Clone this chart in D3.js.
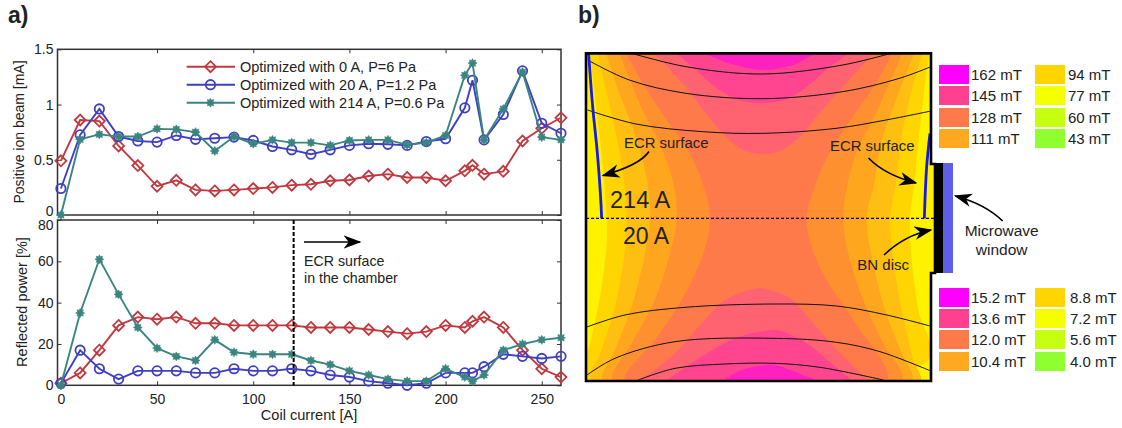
<!DOCTYPE html>
<html>
<head>
<meta charset="utf-8">
<script src="https://cdn.jsdelivr.net/npm/d3@7"></script>
<style>
  html, body { margin: 0; padding: 0; background: #fff; }
  text { font-family: "Liberation Sans", Arial, sans-serif; fill: #222; }
</style>
</head>
<body>
<div id="chart"></div>
<script>
'use strict'

////////////////////////////////////
//////////////// data //////////////
////////////////////////////////////

const coilCurrent = [0,10,20,30,40,50,60,70,80,90,100,110,120,130,140,150,160,170,180,190,200,210,214,220,230,240,250,260]

const beam0A = [.49,.86,.85,.625,.447,.26,.314,.227,.218,.227,.239,.25,.27,.278,.31,.317,.353,.37,.34,.34,.31,.40,.45,.37,.395,.67,.785,.88]
const beam20A = [.24,.725,.96,.71,.67,.66,.72,.685,.695,.705,.675,.62,.59,.55,.59,.63,.645,.64,.63,.665,.69,.97,1.22,.68,.91,1.305,.83,.74]
const beam214A = [0,.685,.73,.71,.71,.78,.775,.75,.58,.71,.645,.68,.655,.655,.63,.675,.68,.68,.635,.655,.72,1.265,1.375,.68,.96,1.295,.705,.68]

const power0A = [1,6,17,29,33,32,33,30,30,29,29,29,29,28,28,28,27,26,25,26,29,28,31,33,28,17,8,4]
const power20A = [1,17,8,3,7,7,7,6,6,8,7,7,8,7,5,4,2,1,0,1,6,6,6,9,15,14,13,14]
const power214A = [0,35,61,44,28,18,14,12,22,16,15,15,15,12,10,7,5,3,2,2,8,4,2,5,17,20,22,23]

const seriesNames = ['Optimized with 0 A, P=6 Pa', 'Optimized with 20 A, P=1.2 Pa', 'Optimized with 214 A, P=0.6 Pa']

const teslaLabels = ['162 mT','145 mT','128 mT','111 mT','94 mT','77 mT','60 mT','43 mT']
const milliLabels = ['15.2 mT','13.6 mT','12.0 mT','10.4 mT','8.8 mT','7.2 mT','5.6 mT','4.0 mT']
const legendColors = ['#ff00ff','#ff4090','#ff7a4a','#ffa820','#ffd500','#f6ff00','#c6ff10','#90ff30']

// chamber drawing, points (3 units = 1 px)
const chamberOutline = [[0,10],[1035,10],[1035,342],[1047,342],[1047,669],[1035,669],[1035,993],[0,993]]

const bandGold = [[12,8],[25,120],[40,250],[55,400],[62,505],[62,580],[42,740],[12,880],[-13,995],[1027,930],[997,780],[977,630],[972,505],[985,400],[1000,250],[1015,120],[1030,8]]
const bandAmber = [[35,8],[60,120],[90,250],[115,400],[122,505],[117,600],[87,770],[47,900],[17,995],[1002,995],[982,930],[947,780],[922,630],[912,505],[930,400],[945,270],[970,150],[1010,8]]
const bandOrange = [[60,8],[100,130],[150,260],[185,400],[192,505],[177,610],[137,770],[87,900],[52,995],[977,995],[947,910],[897,780],[862,640],[842,505],[865,400],[885,280],[930,150],[985,8]]
const bandDeep = [[100,8],[165,170],[225,290],[262,400],[272,505],[252,610],[202,760],[137,880],[82,995],[947,995],[892,880],[832,750],[787,610],[772,505],[785,400],[815,300],[870,190],[950,8]]
const bandCoral = [[120,8],[170,100],[235,200],[305,300],[350,400],[372,505],[352,610],[287,750],[207,870],[117,995],[902,995],[802,810],[722,690],[677,590],[662,505],[690,400],[735,300],[800,200],[870,100],[920,8]]

const salmonTop = [[205,8],[290,100],[360,190],[420,260],[470,300],[530,312],[590,300],[640,260],[700,190],[770,110],[865,8]]
const pinkTop = [[270,8],[330,60],[400,120],[460,150],[530,160],[600,148],[650,120],[720,60],[790,8]]
const magentaTop = [[350,8],[430,40],[530,60],[620,45],[690,8]]

const salmonBottom = [[157,995],[267,910],[347,820],[417,750],[517,715],[552,720],[612,745],[682,820],[762,910],[852,995]]
const pinkBottom = [[237,995],[347,920],[447,865],[567,840],[592,845],[662,880],[742,945],[802,995]]
const magentaBottom = [[407,995],[467,960],[567,945],[612,960],[702,995]]

const chamberBands = [
  [bandGold, '#ffd500'], [bandAmber, '#ffbe12'], [bandOrange, '#ffa61f'], [bandDeep, '#ff9030'], [bandCoral, '#ff7a4a'],
  [salmonTop, '#ff6270'], [pinkTop, '#ff4590'], [magentaTop, '#ff20c0'],
  [salmonBottom, '#ff6270'], [pinkBottom, '#ff4590'], [magentaBottom, '#ff20c0']
]

const fieldLines = [
  [[130,8],[300,50],[530,72],[770,45],[915,10]],
  [[5,30],[130,90],[300,130],[530,146],[770,125],[940,85],[1035,50]],
  [[5,180],[150,222],[350,245],[530,250],[750,235],[900,210],[1035,183]],
  [[0,832],[117,795],[297,772],[567,762],[752,768],[902,795],[1032,828]],
  [[0,977],[87,925],[267,875],[567,865],[752,877],[882,905],[1032,962]],
  [[157,990],[267,955],[417,942],[567,940],[702,952],[892,990]]
]

const ecrLeft = [[8,12],[20,170],[35,320],[47,505]]
const ecrRight = [[1032,250],[1022,350],[1015,505]]

////////////////////////////////////
//////////// svg setup /////////////
////////////////////////////////////

const svgWidth = 1122
const svgHeight = 428

const svg = d3.select('#chart')
  .append('svg')
  .attr('width', svgWidth)
  .attr('height', svgHeight)
  .style('display', 'block')

const defs = svg.append('defs')

defs.append('marker')
  .attr('id', 'stealth')
  .attr('viewBox', '0 -5 12 10')
  .attr('refX', 11)
  .attr('markerUnits', 'userSpaceOnUse')
  .attr('markerWidth', 18)
  .attr('markerHeight', 15)
  .attr('orient', 'auto')
  .append('path')
  .attr('d', 'M0,-4.5L12,0L0,4.5L3.5,0Z')
  .attr('fill', '#000')

svg.append('text').attr('x', 8).attr('y', 23).attr('font-size', 23).attr('font-weight', 'bold').text('a)')
svg.append('text').attr('x', 578).attr('y', 23).attr('font-size', 23).attr('font-weight', 'bold').text('b)')

////////////////////////////////////
////////////// panel a /////////////
////////////////////////////////////

const x = d3.scaleLinear().domain([0, 260]).range([60.9, 561])
const yBeam = d3.scaleLinear().domain([0, 1.5]).range([215, 49.3])
const yPower = d3.scaleLinear().domain([0, 80]).range([385.3, 220])

const seriesColors = ['#c0393f', '#3f3fc4', '#3a8580']
const frameLeft = 57.5
const xTicks = [50, 100, 150, 200, 250]

// 8 spoke filled star for the third series
const spokeStar = {
  draw(ctx, size) {
    const r = Math.sqrt(size)
    for (let i = 0; i < 16; i++) {
      const a = i * Math.PI / 8
      const q = i % 2 ? r * 0.62 : r
      if (i) ctx.lineTo(q * Math.cos(a), q * Math.sin(a))
      else ctx.moveTo(q, 0)
    }
    ctx.closePath()
  }
}

const diamond = { draw(ctx, size) { const r = Math.sqrt(size); ctx.moveTo(0,-r); ctx.lineTo(r,0); ctx.lineTo(0,r); ctx.lineTo(-r,0); ctx.closePath() } }
const ring = { draw(ctx, size) { const r = Math.sqrt(size); ctx.moveTo(r,0); ctx.arc(0,0,r,0,2*Math.PI) } }

const markerPaths = [
  d3.symbol().type(diamond).size(30)(),
  d3.symbol().type(ring).size(22)(),
  d3.symbol().type(spokeStar).size(20)()
]

function drawMarker(g, i) {
  return g.append('path')
    .attr('d', markerPaths[i])
    .attr('fill', i == 2 ? seriesColors[i] : 'none')
    .attr('stroke', seriesColors[i])
    .attr('stroke-width', i == 2 ? 0.6 : 1.8)
}

function drawPanel(y, yTicks, allValues, showXLabels, labelShift) {
  const g = svg.append('g')
  const top = y.range()[1], bottom = y.range()[0], right = x.range()[1]

  const bottomAxis = d3.axisBottom(x)
    .tickValues(showXLabels ? [0].concat(xTicks) : xTicks)
    .tickSizeInner(-4).tickSizeOuter(0).tickPadding(9)
    .tickFormat(showXLabels ? d3.format('d') : '')
  const topAxis = d3.axisTop(x).tickValues(xTicks).tickSizeInner(-4).tickSizeOuter(0).tickFormat('')
  const leftAxis = d3.axisLeft(y).tickValues(yTicks).tickSizeInner(-4).tickSizeOuter(0).tickPadding(4).tickFormat(d3.format('~g'))
  const rightAxis = d3.axisRight(y).tickValues(yTicks).tickSizeInner(-4).tickSizeOuter(0).tickFormat('')

  const axes = [
    g.append('g').attr('transform', `translate(0,${bottom})`).call(bottomAxis),
    g.append('g').attr('transform', `translate(0,${top})`).call(topAxis),
    g.append('g').attr('transform', `translate(${frameLeft},0)`).call(leftAxis),
    g.append('g').attr('transform', `translate(${right},0)`).call(rightAxis)
  ]
  axes.forEach(a => {
    a.select('.domain').remove()
    a.selectAll('line').attr('stroke', '#333')
    a.selectAll('text').attr('font-size', 14).style('font-family', '"Liberation Sans", Arial, sans-serif').attr('fill', '#222')
  })

  // the neighbouring end labels of the two panels are pushed apart
  axes[2].selectAll('.tick text').attr('y', d => labelShift[d] || 0)

  g.append('rect')
    .attr('x', frameLeft).attr('y', top)
    .attr('width', right - frameLeft).attr('height', bottom - top)
    .attr('fill', 'none').attr('stroke', '#333').attr('stroke-width', 1.5)

  const line = d3.line().x((d, i) => x(coilCurrent[i])).y(d => y(d))

  allValues.forEach((values, s) => {
    g.append('path')
      .attr('d', line(values))
      .attr('fill', 'none')
      .attr('stroke', seriesColors[s])
      .attr('stroke-width', 1.9)
    values.forEach((v, i) => {
      drawMarker(g, s).attr('transform', `translate(${x(coilCurrent[i])},${y(v)})`)
    })
  })
}

drawPanel(yBeam, [0, 0.5, 1, 1.5], [beam0A, beam20A, beam214A], false, { 0: -4 })
drawPanel(yPower, [0, 20, 40, 60, 80], [power0A, power20A, power214A], true, { 80: 5 })

svg.append('text').attr('transform', 'translate(24,132) rotate(-90)').attr('text-anchor', 'middle').attr('font-size', 14).text('Positive ion beam [mA]')
svg.append('text').attr('transform', 'translate(27,302) rotate(-90)').attr('text-anchor', 'middle').attr('font-size', 14.5).text('Reflected power [%]')
svg.append('text').attr('x', 309).attr('y', 420).attr('text-anchor', 'middle').attr('font-size', 14.6).text('Coil current [A]')

// legend
seriesNames.forEach((name, i) => {
  const ly = 66.7 + i * 18
  svg.append('line').attr('x1', 186.7).attr('x2', 235).attr('y1', ly).attr('y2', ly)
    .attr('stroke', seriesColors[i]).attr('stroke-width', 1.9)
  drawMarker(svg, i).attr('transform', `translate(210.5,${ly})`)
  svg.append('text').attr('x', 240).attr('y', ly + 4.8).attr('font-size', 14.5).text(name)
})

// ECR surface note
const boundary = 121
svg.append('line')
  .attr('x1', x(boundary)).attr('x2', x(boundary))
  .attr('y1', yPower(80)).attr('y2', yPower(0))
  .attr('stroke', '#000').attr('stroke-width', 2).attr('stroke-dasharray', '4,2')
svg.append('line').attr('x1', 304).attr('x2', 360).attr('y1', 242).attr('y2', 242)
  .attr('stroke', '#000').attr('stroke-width', 1.5).attr('marker-end', 'url(#stealth)')
svg.append('text').attr('x', 304).attr('y', 265.7).attr('font-size', 14.2).text('ECR surface')
svg.append('text').attr('x', 304).attr('y', 283).attr('font-size', 14.2).text('in the chamber')

////////////////////////////////////
////////////// panel b /////////////
////////////////////////////////////

const cx = d3.scaleLinear().domain([0, 1050]).range([586, 936])
const cy = d3.scaleLinear().domain([0, 510]).range([50, 220])

const smooth = d3.line().x(d => cx(d[0])).y(d => cy(d[1])).curve(d3.curveCatmullRom)
const straight = d3.line().x(d => cx(d[0])).y(d => cy(d[1]))

defs.append('clipPath').attr('id', 'chamber-clip')
  .append('path').attr('d', straight(chamberOutline) + 'Z')

const chamber = svg.append('g')

chamber.append('path').attr('d', straight(chamberOutline) + 'Z').attr('fill', '#fff200')

const inner = chamber.append('g').attr('clip-path', 'url(#chamber-clip)')

chamberBands.forEach(([pts, color]) => {
  inner.append('path').attr('d', smooth(pts) + 'Z').attr('fill', color)
})

fieldLines.forEach(pts => {
  inner.append('path').attr('d', smooth(pts)).attr('fill', 'none').attr('stroke', '#111').attr('stroke-width', 1)
})

;[ecrLeft, ecrRight].forEach(pts => {
  inner.append('path').attr('d', smooth(pts)).attr('fill', 'none').attr('stroke', '#1a1ae6').attr('stroke-width', 2.8)
})

// midline between the 214 A and 20 A halves
chamber.append('line')
  .attr('x1', cx(0)).attr('x2', cx(1047)).attr('y1', cy(505)).attr('y2', cy(505))
  .attr('stroke', '#000').attr('stroke-width', 1.4).attr('stroke-dasharray', '3,2')

// microwave window and BN disc
chamber.append('rect').attr('x', cx(1047)).attr('y', cy(339)).attr('width', cx(1071) - cx(1047)).attr('height', cy(669) - cy(339)).attr('fill', '#000')
chamber.append('rect').attr('x', cx(1071)).attr('y', cy(339)).attr('width', cx(1101) - cx(1071)).attr('height', cy(669) - cy(339)).attr('fill', '#5e5fe6')

chamber.append('path').attr('d', straight(chamberOutline) + 'Z').attr('fill', 'none').attr('stroke', '#000').attr('stroke-width', 2.6)

// notes
const notes = [
  ['ECR surface', 624, 148, 14.9], ['ECR surface', 830, 150.7, 14.9],
  ['214 A', 610, 207.7, 23.5], ['20 A', 623, 244, 23],
  ['BN disc', 857.3, 270, 15]
]
notes.forEach(n => {
  svg.append('text').attr('x', n[1]).attr('y', n[2]).attr('font-size', n[3]).text(n[0])
})
svg.append('text').attr('x', 1001.7).attr('y', 236).attr('text-anchor', 'middle').attr('font-size', 15.5).text('Microwave')
svg.append('text').attr('x', 1001.7).attr('y', 255).attr('text-anchor', 'middle').attr('font-size', 15.5).text('window')

const arrows = [
  [649, 151.5, 640, 165, 603, 175.5],
  [868.5, 158, 885, 175, 916, 183],
  [884, 255, 905, 235, 931, 230],
  [1002.7, 221, 985, 204, 955.3, 196]
]
arrows.forEach(a => {
  svg.append('path')
    .attr('d', `M${a[0]},${a[1]}Q${a[2]},${a[3]} ${a[4]},${a[5]}`)
    .attr('fill', 'none').attr('stroke', '#000').attr('stroke-width', 1.6)
    .attr('marker-end', 'url(#stealth)')
})

// field strength legends
function drawFieldLegend(labels, rows, textX2) {
  labels.forEach((label, i) => {
    const col = i < 4 ? 0 : 1
    const rowY = rows[i % 4]
    svg.append('rect').attr('x', col ? 1035 : 939).attr('y', rowY).attr('width', 30).attr('height', 19).attr('fill', legendColors[i])
    svg.append('text').attr('x', col ? textX2 : 971).attr('y', rowY + 14.5).attr('font-size', 15).text(label)
  })
}

drawFieldLegend(teslaLabels, [65, 86, 108, 129], 1068)
drawFieldLegend(milliLabels, [288, 309, 330, 352], 1070)
</script>
</body>
</html>
